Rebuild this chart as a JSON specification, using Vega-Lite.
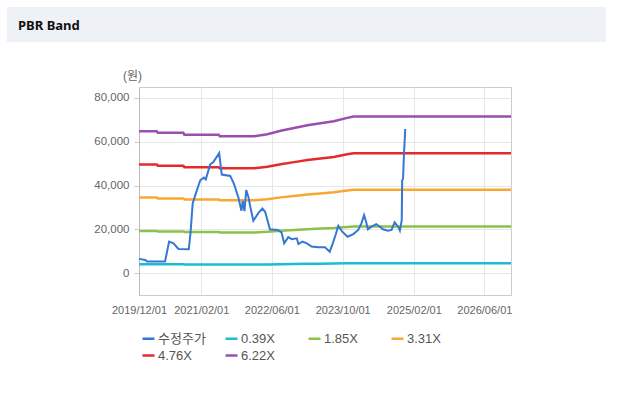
{
  "$schema": "https://vega.github.io/schema/vega-lite/v6.json",
  "background": "white",
  "padding": {"left": 7, "top": 7, "right": 0, "bottom": 0},
  "config": {
    "font": "Liberation Sans, Noto Sans CJK KR",
    "view": {"stroke": null}
  },
  "datasets": {
    "price": [
      {"d":"2019/12/01","s":"수정주가","v":6500},
      {"d":"2020/01/14","s":"수정주가","v":6000},
      {"d":"2020/01/25","s":"수정주가","v":5300},
      {"d":"2020/05/28","s":"수정주가","v":5300},
      {"d":"2020/06/25","s":"수정주가","v":14400},
      {"d":"2020/07/25","s":"수정주가","v":13600},
      {"d":"2020/08/28","s":"수정주가","v":11000},
      {"d":"2020/11/07","s":"수정주가","v":10900},
      {"d":"2020/11/19","s":"수정주가","v":18200},
      {"d":"2020/12/04","s":"수정주가","v":31800},
      {"d":"2020/12/22","s":"수정주가","v":35600},
      {"d":"2021/01/25","s":"수정주가","v":42400},
      {"d":"2021/02/19","s":"수정주가","v":43600},
      {"d":"2021/03/04","s":"수정주가","v":42800},
      {"d":"2021/04/04","s":"수정주가","v":49700},
      {"d":"2021/04/25","s":"수정주가","v":50700},
      {"d":"2021/06/04","s":"수정주가","v":54800},
      {"d":"2021/06/22","s":"수정주가","v":45000},
      {"d":"2021/08/19","s":"수정주가","v":44400},
      {"d":"2021/09/13","s":"수정주가","v":40900},
      {"d":"2021/10/16","s":"수정주가","v":34100},
      {"d":"2021/11/04","s":"수정주가","v":28500},
      {"d":"2021/11/13","s":"수정주가","v":33000},
      {"d":"2021/11/25","s":"수정주가","v":28300},
      {"d":"2021/12/07","s":"수정주가","v":37900},
      {"d":"2021/12/22","s":"수정주가","v":34800},
      {"d":"2022/01/04","s":"수정주가","v":30300},
      {"d":"2022/01/25","s":"수정주가","v":23900},
      {"d":"2022/03/01","s":"수정주가","v":27500},
      {"d":"2022/03/28","s":"수정주가","v":29500},
      {"d":"2022/04/16","s":"수정주가","v":28000},
      {"d":"2022/05/19","s":"수정주가","v":20000},
      {"d":"2022/07/13","s":"수정주가","v":19700},
      {"d":"2022/08/07","s":"수정주가","v":18500},
      {"d":"2022/08/25","s":"수정주가","v":13600},
      {"d":"2022/09/22","s":"수정주가","v":16400},
      {"d":"2022/10/16","s":"수정주가","v":15500},
      {"d":"2022/11/19","s":"수정주가","v":15900},
      {"d":"2022/12/01","s":"수정주가","v":13300},
      {"d":"2022/12/28","s":"수정주가","v":14400},
      {"d":"2023/01/28","s":"수정주가","v":13600},
      {"d":"2023/03/01","s":"수정주가","v":12100},
      {"d":"2023/04/16","s":"수정주가","v":11800},
      {"d":"2023/06/01","s":"수정주가","v":11800},
      {"d":"2023/07/04","s":"수정주가","v":9800},
      {"d":"2023/07/25","s":"수정주가","v":13600},
      {"d":"2023/08/13","s":"수정주가","v":17400},
      {"d":"2023/09/01","s":"수정주가","v":21600},
      {"d":"2023/09/28","s":"수정주가","v":18900},
      {"d":"2023/11/04","s":"수정주가","v":16600},
      {"d":"2023/12/13","s":"수정주가","v":17800},
      {"d":"2024/01/16","s":"수정주가","v":19700},
      {"d":"2024/02/07","s":"수정주가","v":22700},
      {"d":"2024/02/25","s":"수정주가","v":26500},
      {"d":"2024/03/10","s":"수정주가","v":23500},
      {"d":"2024/03/22","s":"수정주가","v":20000},
      {"d":"2024/04/16","s":"수정주가","v":21200},
      {"d":"2024/05/19","s":"수정주가","v":22400},
      {"d":"2024/06/13","s":"수정주가","v":21200},
      {"d":"2024/07/04","s":"수정주가","v":20000},
      {"d":"2024/08/07","s":"수정주가","v":19400},
      {"d":"2024/09/01","s":"수정주가","v":19700},
      {"d":"2024/09/22","s":"수정주가","v":23200},
      {"d":"2024/10/16","s":"수정주가","v":21200},
      {"d":"2024/10/28","s":"수정주가","v":19400},
      {"d":"2024/11/10","s":"수정주가","v":24200},
      {"d":"2024/11/13","s":"수정주가","v":42400},
      {"d":"2024/11/19","s":"수정주가","v":43100},
      {"d":"2024/11/25","s":"수정주가","v":53800},
      {"d":"2024/12/04","s":"수정주가","v":65800}
    ],
    "bands": [
      {"d":"2019/12/01","s":"0.39X","v":4064},{"d":"2019/12/01","s":"1.85X","v":19277},{"d":"2019/12/01","s":"3.31X","v":34490},{"d":"2019/12/01","s":"4.76X","v":49599},{"d":"2019/12/01","s":"6.22X","v":64812},
      {"d":"2020/04/01","s":"0.39X","v":4064},{"d":"2020/04/01","s":"1.85X","v":19277},{"d":"2020/04/01","s":"3.31X","v":34490},{"d":"2020/04/01","s":"4.76X","v":49599},{"d":"2020/04/01","s":"6.22X","v":64812},
      {"d":"2020/04/08","s":"0.39X","v":4017},{"d":"2020/04/08","s":"1.85X","v":19055},{"d":"2020/04/08","s":"3.31X","v":34093},{"d":"2020/04/08","s":"4.76X","v":49028},{"d":"2020/04/08","s":"6.22X","v":64066},
      {"d":"2020/10/01","s":"0.39X","v":4017},{"d":"2020/10/01","s":"1.85X","v":19055},{"d":"2020/10/01","s":"3.31X","v":34093},{"d":"2020/10/01","s":"4.76X","v":49028},{"d":"2020/10/01","s":"6.22X","v":64066},
      {"d":"2020/10/08","s":"0.39X","v":3962},{"d":"2020/10/08","s":"1.85X","v":18796},{"d":"2020/10/08","s":"3.31X","v":33630},{"d":"2020/10/08","s":"4.76X","v":48362},{"d":"2020/10/08","s":"6.22X","v":63195},
      {"d":"2021/06/01","s":"0.39X","v":3962},{"d":"2021/06/01","s":"1.85X","v":18796},{"d":"2021/06/01","s":"3.31X","v":33630},{"d":"2021/06/01","s":"4.76X","v":48362},{"d":"2021/06/01","s":"6.22X","v":63195},
      {"d":"2021/06/08","s":"0.39X","v":3920},{"d":"2021/06/08","s":"1.85X","v":18593},{"d":"2021/06/08","s":"3.31X","v":33266},{"d":"2021/06/08","s":"4.76X","v":47838},{"d":"2021/06/08","s":"6.22X","v":62511},
      {"d":"2022/02/01","s":"0.39X","v":3920},{"d":"2022/02/01","s":"1.85X","v":18593},{"d":"2022/02/01","s":"3.31X","v":33266},{"d":"2022/02/01","s":"4.76X","v":47838},{"d":"2022/02/01","s":"6.22X","v":62511},
      {"d":"2022/05/01","s":"0.39X","v":3978},{"d":"2022/05/01","s":"1.85X","v":18870},{"d":"2022/05/01","s":"3.31X","v":33762},{"d":"2022/05/01","s":"4.76X","v":48552},{"d":"2022/05/01","s":"6.22X","v":63444},
      {"d":"2022/08/01","s":"0.39X","v":4076},{"d":"2022/08/01","s":"1.85X","v":19333},{"d":"2022/08/01","s":"3.31X","v":34590},{"d":"2022/08/01","s":"4.76X","v":49742},{"d":"2022/08/01","s":"6.22X","v":64999},
      {"d":"2022/11/01","s":"0.39X","v":4154},{"d":"2022/11/01","s":"1.85X","v":19703},{"d":"2022/11/01","s":"3.31X","v":35252},{"d":"2022/11/01","s":"4.76X","v":50694},{"d":"2022/11/01","s":"6.22X","v":66243},
      {"d":"2023/02/01","s":"0.39X","v":4232},{"d":"2023/02/01","s":"1.85X","v":20073},{"d":"2023/02/01","s":"3.31X","v":35914},{"d":"2023/02/01","s":"4.76X","v":51646},{"d":"2023/02/01","s":"6.22X","v":67487},
      {"d":"2023/05/01","s":"0.39X","v":4290},{"d":"2023/05/01","s":"1.85X","v":20350},{"d":"2023/05/01","s":"3.31X","v":36410},{"d":"2023/05/01","s":"4.76X","v":52360},{"d":"2023/05/01","s":"6.22X","v":68420},
      {"d":"2023/08/01","s":"0.39X","v":4349},{"d":"2023/08/01","s":"1.85X","v":20628},{"d":"2023/08/01","s":"3.31X","v":36907},{"d":"2023/08/01","s":"4.76X","v":53074},{"d":"2023/08/01","s":"6.22X","v":69353},
      {"d":"2023/11/01","s":"0.39X","v":4446},{"d":"2023/11/01","s":"1.85X","v":21090},{"d":"2023/11/01","s":"3.31X","v":37734},{"d":"2023/11/01","s":"4.76X","v":54264},{"d":"2023/11/01","s":"6.22X","v":70908},
      {"d":"2023/12/15","s":"0.39X","v":4485},{"d":"2023/12/15","s":"1.85X","v":21275},{"d":"2023/12/15","s":"3.31X","v":38065},{"d":"2023/12/15","s":"4.76X","v":54740},{"d":"2023/12/15","s":"6.22X","v":71530},
      {"d":"2026/12/01","s":"0.39X","v":4485},{"d":"2026/12/01","s":"1.85X","v":21275},{"d":"2026/12/01","s":"3.31X","v":38065},{"d":"2026/12/01","s":"4.76X","v":54740},{"d":"2026/12/01","s":"6.22X","v":71530}
    ]
  },
  "spacing": 26,
  "vconcat": [
    {
      "width": 599,
      "height": 35,
      "view": {"fill": "#eef2f7", "stroke": null},
      "title": {"text": "PBR Band", "anchor": "start", "offset": -26, "dx": 11, "fontSize": 13, "fontWeight": "bold", "color": "#111111", "font": "Noto Sans"},
      "data": {"values": []},
      "mark": "rule",
      "encoding": {}
    },
    {
      "spacing": 0,
      "hconcat": [
        {
          "width": 86,
          "height": 10,
          "view": {"stroke": null},
          "data": {"values": []},
          "mark": "rule",
          "encoding": {}
        },
        {
          "width": 372,
          "height": 208,
          "view": {"stroke": "#cccccc"},
          "encoding": {
            "x": {
              "field": "d", "type": "temporal",
              "scale": {"domain": [{"year": 2019, "month": 12, "date": 1}, {"year": 2026, "month": 12, "date": 1}]},
              "axis": {
                "title": null,
                "values": [{"year": 2019, "month": 12, "date": 1}, {"year": 2021, "month": 2, "date": 1}, {"year": 2022, "month": 6, "date": 1}, {"year": 2023, "month": 10, "date": 1}, {"year": 2025, "month": 2, "date": 1}, {"year": 2026, "month": 6, "date": 1}],
                "format": "%Y/%m/%d",
                "labelFontSize": 11, "labelColor": "#666666", "labelPadding": 9, "labelFlush": false,
                "ticks": false, "domainColor": "#cccccc",
                "grid": true, "gridColor": "#e6e6e6"
              }
            },
            "y": {
              "field": "v", "type": "quantitative",
              "scale": {"domain": [-10000, 85000], "nice": false, "zero": false},
              "axis": {
                "values": [0, 20000, 40000, 60000, 80000],
                "format": ",d",
                "title": "(원)", "titleAngle": 0, "titleX": -7, "titleY": -12, "titleAlign": "center", "titleBaseline": "middle",
                "titleFontSize": 12, "titleFontWeight": "normal", "titleColor": "#666666",
                "labelFontSize": 11.5, "labelColor": "#666666", "labelPadding": 5,
                "tickSize": 5, "tickColor": "#cccccc", "domainColor": "#bbbbbb",
                "grid": true, "gridColor": "#e6e6e6"
              }
            },
            "color": {
              "field": "s", "type": "nominal",
              "scale": {
                "domain": ["수정주가", "0.39X", "1.85X", "3.31X", "4.76X", "6.22X"],
                "range": ["#3478d4", "#1cbdd0", "#8cc04f", "#f8a832", "#e32b2b", "#9a4fae"]
              },
              "legend": {
                "orient": "none", "legendX": 134, "legendY": 324, "direction": "horizontal",
                "columns": 4, "gridAlign": "all", "columnPadding": 14, "rowPadding": 2,
                "title": null, "padding": 0,
                "symbolType": "stroke", "symbolSize": 144, "symbolStrokeWidth": 2.5,
                "labelFontSize": 13, "labelColor": "#555555", "labelOffset": 2,
                "labelFont": "Liberation Sans, Noto Sans CJK KR"
              }
            }
          },
          "layer": [
            {"data": {"name": "bands"}, "mark": {"type": "line", "strokeWidth": 2.5}},
            {"data": {"name": "price"}, "mark": {"type": "line", "strokeWidth": 2}}
          ]
        }
      ]
    }
  ]
}
